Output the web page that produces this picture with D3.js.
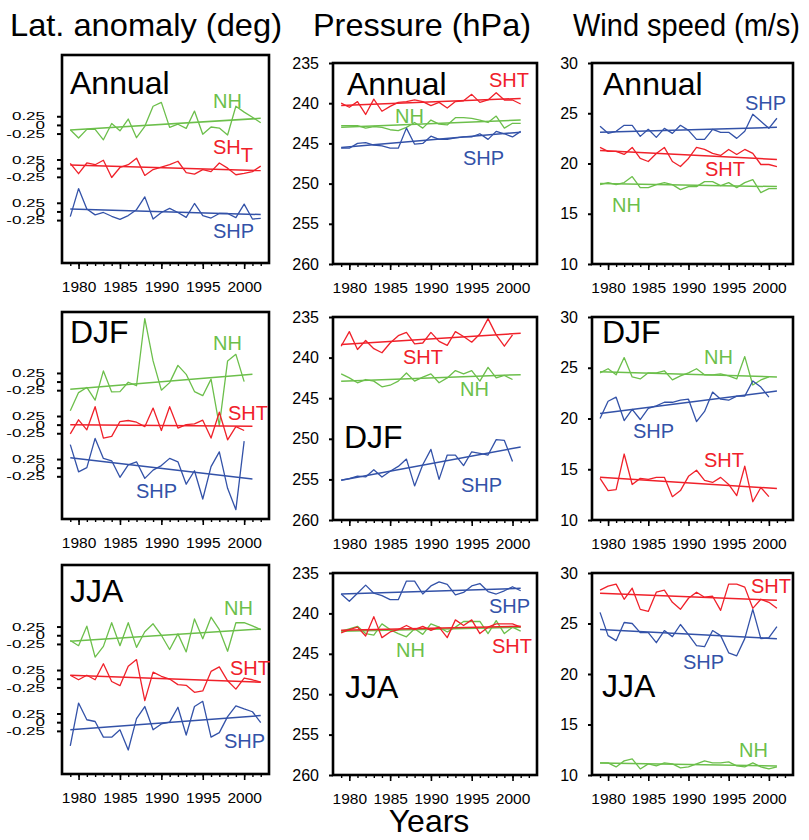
<!DOCTYPE html>
<html><head><meta charset="utf-8">
<script src="https://cdn.jsdelivr.net/npm/d3@7/dist/d3.min.js"></script>
<style>
body{margin:0;background:#fff}
text{font-family:"Liberation Sans",Arial,Helvetica,sans-serif}
</style></head>
<body><svg id="chart" width="809" height="840"></svg>
<script>
// ---------------- DATA ----------------
const yearsLat  = d3.range(1979, 2003);   // lat. anomaly Annual, JJA (1979-2002)
const yearsFull = d3.range(1979, 2002);   // pressure / wind Annual, JJA (1979-2001)
const yearsDJF  = d3.range(1979, 2001);   // DJF (1979-2000)
const trendYearsLat = [1979, 2002];
const trendYears = [1979, 2001];

const xMajorTicks = [1980, 1985, 1990, 1995, 2000];
const xMinorTicks = d3.range(1979, 2003);
const latTickValues = [-0.25, 0, 0.25];
const latTickLabels = ["-0.25", "0", "0.25"];
const presTicks = [235, 240, 245, 250, 255, 260];
const windTicks = [10, 15, 20, 25, 30];

const columnTitles = ["Lat. anomaly (deg)", "Pressure (hPa)", "Wind speed (m/s)"];
const seasons = ["Annual", "DJF", "JJA"];
const seriesNames = ["NH", "SHT", "SHP"];

// Latitude anomaly (deg)
const latAnnNH  = [-0.14,-0.38,-0.13,-0.13,-0.43,0.04,-0.17,0.17,-0.37,-0.04,0.54,0.65,-0.07,0.02,-0.1,0.4,-0.27,-0.06,-0.09,-0.29,0.54,0.37,0.22,0.06];
const latAnnSHT = [0.14,-0.16,0.15,0.1,0.23,-0.27,0.02,0.1,0.29,-0.21,-0.04,0.03,0.1,0.2,-0.13,-0.17,-0.04,-0.1,0.15,0,-0.19,-0.15,-0.1,0.06];
const latAnnSHP = [-0.15,0.66,0.07,-0.1,-0.03,-0.14,-0.23,-0.12,0.05,0.42,-0.22,-0.03,0.09,-0.03,-0.17,0.23,-0.12,-0.19,-0.06,-0.06,-0.18,0.21,-0.22,-0.2];
const latDjfNH  = [-0.85,-0.32,-0.17,-0.54,0.31,-0.3,-0.29,-0.02,-0.12,1.83,0.6,-0.25,-0.03,0.47,0.21,-0.29,-0.41,0.07,-1.28,0.6,0.79,0];
const latDjfSHT = [-0.27,0.14,-0.15,0.52,-0.39,-0.34,0.09,0.12,0.07,-0.06,0.48,-0.17,0.52,-0.1,0,0.02,0.13,-0.39,0.36,-0.44,-0.06,-0.17];
const latDjfSHP = [0.67,-0.12,0,0.85,0.27,0.2,-0.28,0.08,0.17,-0.31,-0.07,0.06,0.27,0.17,-0.48,-0.09,-0.91,0.03,0.46,-0.6,-1.22,0.77];
const latJjaNH  = [-0.15,-0.3,0.26,-0.63,-0.32,0.36,-0.3,0.36,-0.35,0.1,0.33,0,-0.41,0.04,-0.48,0.47,-0.1,0.52,0.16,-0.46,0.36,0.36,0.27,0.16];
const latJjaSHT = [0.1,-0.03,0.1,-0.03,0.43,-0.08,-0.2,0.36,0.55,-0.63,0.19,0.07,-0.01,-0.17,-0.19,-0.39,-0.35,0.21,0.34,-0.06,-0.3,0.02,-0.03,-0.1];
const latJjaSHP = [-0.68,0.55,0.07,0.02,-0.43,-0.43,-0.22,-0.8,0.1,0.45,-0.22,-0.05,0,0.43,-0.37,0.45,0.6,-0.43,-0.3,0.16,0.47,0.38,0.3,-0.01];
const latAnnTrend = {NH:[-0.15,0.19], SHT:[0.09,-0.07], SHP:[0.07,-0.09]};
const latDjfTrend = {NH:[-0.22,0.21], SHT:[0,-0.05], SHP:[0.29,-0.33]};
const latJjaTrend = {NH:[-0.17,0.18], SHT:[0.1,-0.1], SHP:[-0.22,0.19]};

// Pressure (hPa)
const presAnnSHT = [240.0,240.5,239.8,241.4,239.5,241.0,240.4,239.9,239.8,239.6,239.8,240.3,239.9,240.6,239.8,239.7,238.9,239.9,239.6,238.7,239.6,239.6,240.1];
const presAnnNH  = [242.8,242.8,242.8,243.1,242.9,243.0,243.3,243.4,243.0,242.4,243.1,242.1,242.6,242.7,241.8,241.8,241.9,242.1,242.4,241.6,243.1,242.5,242.5];
const presAnnSHP = [245.6,245.6,245.0,244.9,245.2,245.3,245.6,245.6,243.1,245.1,245.0,244.1,244.5,244.5,244.3,244.2,244.2,243.8,244.5,243.5,243.8,244.2,243.5];
const presDjfSHT = [238.6,236.8,239.0,237.9,238.9,239.4,238.2,237.3,236.9,238.3,238.2,236.9,238.0,238.5,236.8,237.4,238.1,237.1,235.2,237.2,238.6,237.2];
const presDjfNH  = [242.0,242.5,243.1,242.7,242.9,243.6,243.4,242.9,241.9,242.9,242.4,242.0,243.1,242.5,241.6,242.0,241.6,242.9,241.2,242.5,242.2,242.7];
const presDjfSHP = [255.1,254.9,254.6,254.7,253.8,254.7,254.0,253.4,252.5,255.8,253.2,251.3,255.0,252.0,252.0,253.3,251.6,251.8,252.0,250.1,250.2,252.8];
const presJjaSHP = [237.6,238.5,237.5,236.5,237.5,237.8,238.3,238.3,236.0,236.0,237.6,236.6,236.1,236.4,237.7,237.4,236.6,236.3,237.3,237.6,237.2,236.7,237.2];
const presJjaNH  = [242.2,241.9,241.6,242.5,242.7,241.3,242.0,242.5,242.9,241.9,242.6,241.3,241.7,242.3,241.7,241.0,241.0,241.0,242.5,240.9,242.5,241.7,242.2];
const presJjaSHT = [242.4,242.0,241.7,242.8,240.4,243.0,242.3,242.0,241.5,242.0,241.6,242.1,241.7,243.0,240.8,241.5,240.8,242.5,241.7,241.3,241.3,241.3,241.7];
const presAnnTrend = {NH:[243.0,242.1], SHT:[240.3,239.4], SHP:[245.5,243.6]};
const presDjfTrend = {NH:[242.9,242.1], SHT:[238.4,237.0], SHP:[255.1,251.0]};
const presJjaTrend = {NH:[242.2,241.7], SHT:[242.1,241.6], SHP:[237.6,236.9]};

// Wind speed (m/s)
const windAnnSHP = [23.7,23.0,23.2,23.8,23.8,22.7,23.4,22.6,23.5,23.0,23.8,23.3,22.4,22.4,23.4,23.1,23.1,22.5,23.2,24.9,24.2,23.5,24.5];
const windAnnSHT = [21.6,21.2,21.2,20.9,21.6,20.5,20.2,21.0,21.6,20.2,19.7,20.5,21.6,21.4,21.0,20.8,21.4,20.9,21.4,21.0,19.9,19.9,19.7];
const windAnnNH  = [17.9,18.1,17.9,18.1,18.7,17.6,17.6,17.9,18.1,17.9,17.4,17.7,17.7,18.2,18.2,17.8,18.1,17.6,18.1,18.4,17.1,17.5,17.5];
const windDjfNH  = [24.5,24.9,24.3,26.0,24.1,23.9,24.5,24.5,24.7,23.8,24.2,24.5,24.9,24.3,24.3,24.4,24.2,23.9,26.1,23.3,23.8,24.1];
const windDjfSHP = [20.0,21.7,22.1,19.8,20.9,19.9,21.0,21.25,21.6,21.6,21.8,21.9,19.7,20.7,22.6,21.9,21.8,22.2,22.2,23.7,23.1,22.1];
const windDjfSHT = [14.1,12.9,13.0,16.5,13.5,14.1,14.0,14.2,14.2,12.3,12.9,14.3,14.9,13.9,13.7,14.2,13.5,12.4,15.3,11.8,13.2,12.3];
const windJjaSHT = [28.3,28.7,28.9,27.4,28.5,26.4,26.2,28.1,28.3,27.1,26.4,27.5,28.1,27.6,27.7,26.3,28.9,28.9,28.6,26.5,27.4,27.1,26.5];
const windJjaSHP = [26.1,23.8,23.3,25.1,25.0,24.1,24.1,23.1,24.3,23.7,24.9,23.9,22.8,22.7,24.3,23.8,22.1,21.8,23.5,26.4,23.5,23.6,24.7];
const windJjaNH  = [11.2,11.2,10.8,11.4,11.6,10.6,11.1,10.9,11.2,11.1,10.7,10.8,11.1,11.4,11.2,11.2,11.3,10.9,10.8,11.2,10.8,10.6,10.8];
const windAnnTrend = {NH:[18.0,17.7], SHT:[21.3,20.4], SHP:[23.1,23.6]};
const windDjfTrend = {NH:[24.6,24.1], SHT:[14.2,13.1], SHP:[20.5,22.7]};
const windJjaTrend = {NH:[11.2,10.9], SHT:[28.0,27.3], SHP:[24.4,23.5]};

// latitude panel: vertical offset of each stacked series
const latOffsets = {NH: 1.25, SHT: 0, SHP: -1.25};

// ---------------- LAYOUT / STYLE ----------------
const colors = {NH: "#6cbf4b", SHT: "#f0212a", SHP: "#3352a8"};
const W = 809, H = 840;
const FONT = '"Liberation Sans", Arial, Helvetica, sans-serif';
const cols = [
  {x0: 62,  x1: 269, rows: [[55,263],[312,519],[565,774]], yDomain: [-2.74, 3.27], pad: 12, tick: 5},
  {x0: 333, x1: 537, rows: [[63,264],[317,520],[573,775]], yDomain: [260, 235], pad: 10, tick: 4},
  {x0: 592, x1: 793, rows: [[63,264],[317,520],[573,775]], yDomain: [10, 30], pad: 10, tick: 4}
];
const panelData = [
  [ {years: yearsLat,  tYears: trendYearsLat, NH: latAnnNH, SHT: latAnnSHT, SHP: latAnnSHP, trend: latAnnTrend},
    {years: yearsDJF,  tYears: trendYears,    NH: latDjfNH, SHT: latDjfSHT, SHP: latDjfSHP, trend: latDjfTrend},
    {years: yearsLat,  tYears: trendYearsLat, NH: latJjaNH, SHT: latJjaSHT, SHP: latJjaSHP, trend: latJjaTrend} ],
  [ {years: yearsFull, tYears: trendYears, NH: presAnnNH, SHT: presAnnSHT, SHP: presAnnSHP, trend: presAnnTrend},
    {years: yearsDJF,  tYears: trendYears, NH: presDjfNH, SHT: presDjfSHT, SHP: presDjfSHP, trend: presDjfTrend},
    {years: yearsFull, tYears: trendYears, NH: presJjaNH, SHT: presJjaSHT, SHP: presJjaSHP, trend: presJjaTrend} ],
  [ {years: yearsFull, tYears: trendYears, NH: windAnnNH, SHT: windAnnSHT, SHP: windAnnSHP, trend: windAnnTrend},
    {years: yearsDJF,  tYears: trendYears, NH: windDjfNH, SHT: windDjfSHT, SHP: windDjfSHP, trend: windDjfTrend},
    {years: yearsFull, tYears: trendYears, NH: windJjaNH, SHT: windJjaSHT, SHP: windJjaSHP, trend: windJjaTrend} ]
];
// annotation positions (absolute px): season label and series labels
const labelPos = [
  [ {season:[70,94],  NH:[213,108], SHT:[213,154], SHP:[213,238], subT:true},
    {season:[70,343], NH:[213,350], SHT:[228,420], SHP:[136,498]},
    {season:[70,602], NH:[224,615], SHT:[230,675], SHP:[224,748]} ],
  [ {season:[347,95], NH:[395,123], SHT:[489,87],  SHP:[463,165]},
    {season:[344,448],NH:[460,396], SHT:[403,364], SHP:[461,492]},
    {season:[345,698],NH:[396,657], SHT:[492,653], SHP:[489,613]} ],
  [ {season:[603,95], NH:[612,212], SHT:[705,176], SHP:[745,110]},
    {season:[602,343],NH:[704,364], SHT:[704,467], SHP:[633,438]},
    {season:[602,697],NH:[739,757], SHT:[751,593], SHP:[683,669]} ]
];
const titleSpans = [[10, 282], [313, 531], [573, 800]];

// ---------------- DRAW ----------------
const svg = d3.select("#chart");
svg.append("rect").attr("width", W).attr("height", H).attr("fill", "#fff");

columnTitles.forEach((t, i) => {
  const [a, b] = titleSpans[i];
  svg.append("text").attr("x", a).attr("y", 36)
    .attr("font-size", 32).attr("textLength", b - a)
    .attr("lengthAdjust", "spacingAndGlyphs").text(t);
});
svg.append("text").attr("x", 429).attr("y", 832).attr("text-anchor", "middle")
  .attr("font-size", 32).text("Years");

cols.forEach((col, ci) => {
  col.rows.forEach((rr, ri) => {
    const [top, bottom] = rr;
    const pd = panelData[ci][ri];
    const lp = labelPos[ci][ri];
    const x = d3.scaleLinear().domain([1978, 2003]).range([col.x0, col.x1]);
    const y = d3.scaleLinear().domain(col.yDomain).range([bottom, top]);
    const g = svg.append("g");

    // x axes: minor yearly ticks and labelled 5-year ticks
    const minor = d3.axisBottom(x).tickValues(xMinorTicks).tickSize(3).tickFormat("");
    g.append("g").attr("transform", `translate(0,${bottom})`).call(minor)
      .call(a => a.select(".domain").remove())
      .call(a => a.selectAll("line").attr("stroke-width", 1.4));
    const major = d3.axisBottom(x).tickValues(xMajorTicks).tickSize(6).tickPadding(12)
      .tickFormat(d3.format("d"));
    g.append("g").attr("transform", `translate(0,${bottom})`).call(major)
      .call(a => a.select(".domain").remove())
      .call(a => a.selectAll("line").attr("stroke-width", 1.6))
      .call(a => a.selectAll("text").attr("font-size", 15.5).attr("fill", "#000")
        .attr("font-family", FONT));

    // y axis
    let yAxis;
    if (ci === 0) {
      const vals = [], labs = [];
      seriesNames.forEach(s => latTickValues.forEach((v, k) => { vals.push(v + latOffsets[s]); labs.push(latTickLabels[k]); }));
      yAxis = d3.axisLeft(y).tickValues(vals).tickSize(col.tick).tickPadding(col.pad)
        .tickFormat((d, i) => labs[i]);
    } else {
      yAxis = d3.axisLeft(y).tickValues(ci === 1 ? presTicks : windTicks)
        .tickSize(col.tick).tickPadding(col.pad).tickFormat(d3.format("d"));
    }
    const ya = g.append("g").attr("transform", `translate(${col.x0},0)`).call(yAxis)
      .call(a => a.select(".domain").remove())
      .call(a => a.selectAll("line").attr("stroke-width", 2))
      .call(a => a.selectAll("text").attr("font-size", 16).attr("fill", "#000")
        .attr("font-family", FONT));
    if (ci === 0) ya.selectAll("text").attr("font-size", 17).attr("transform", "scale(1,0.68)");

    // series and trend lines
    seriesNames.forEach(s => {
      const off = ci === 0 ? latOffsets[s] : 0;
      const pts = pd.years.map((yr, i) => [yr, pd[s][i] + off]);
      const line = d3.line().x(d => x(d[0])).y(d => y(d[1]));
      g.append("path").datum(pts).attr("d", line).attr("fill", "none")
        .attr("stroke", colors[s]).attr("stroke-width", 1.3).attr("stroke-linejoin", "round");
      const tr = pd.tYears.map((yr, i) => [yr, pd.trend[s][i] + off]);
      g.append("path").datum(tr).attr("d", line).attr("fill", "none")
        .attr("stroke", colors[s]).attr("stroke-width", 1.5);
    });

    // frame
    g.append("rect").attr("x", col.x0).attr("y", top)
      .attr("width", col.x1 - col.x0).attr("height", bottom - top)
      .attr("fill", "none").attr("stroke", "#000").attr("stroke-width", 2.6);

    // labels
    g.append("text").attr("x", lp.season[0]).attr("y", lp.season[1])
      .attr("font-size", 32).text(seasons[ri]);
    seriesNames.forEach(s => {
      const t = g.append("text").attr("x", lp[s][0]).attr("y", lp[s][1])
        .attr("font-size", 20).attr("fill", colors[s]);
      if (s === "SHT" && lp.subT) {
        t.append("tspan").text("SH");
        t.append("tspan").attr("dy", 8).text("T");
      } else t.text(s);
    });
  });
});
</script></body></html>
